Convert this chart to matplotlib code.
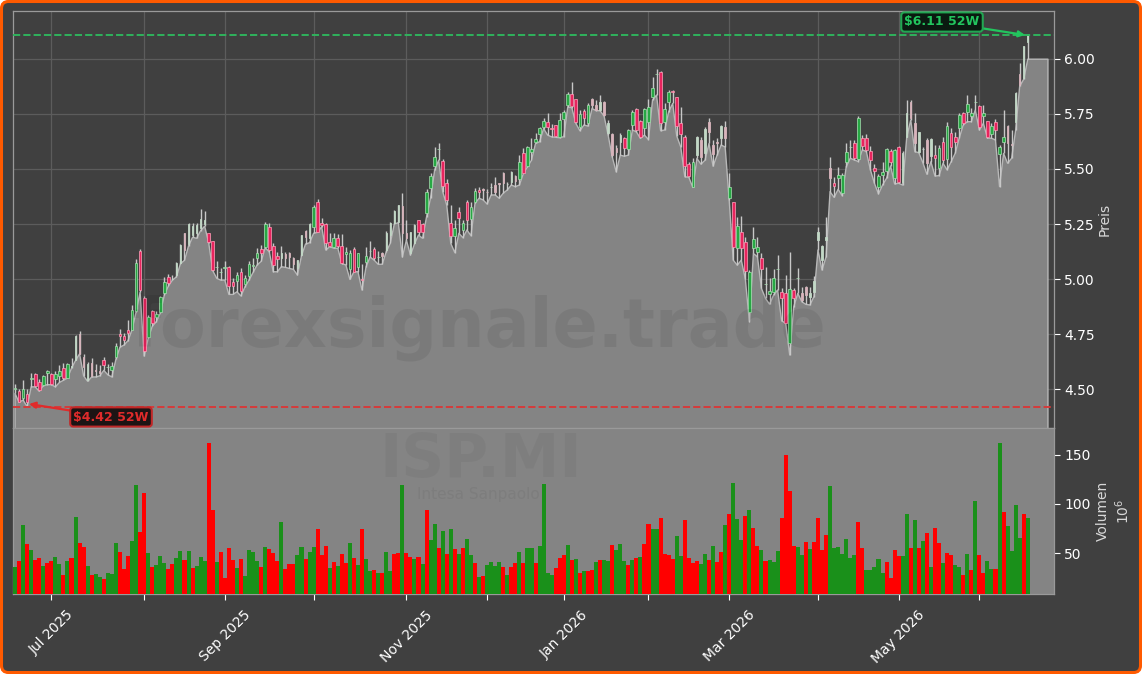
import numpy as np
import matplotlib
matplotlib.use('Agg')
import matplotlib.pyplot as plt
from matplotlib.patches import FancyBboxPatch

opens = [4.50,4.493,4.458,4.477,4.545,4.57,4.53,4.52,4.575,4.57,
4.545,4.56,4.595,4.55,4.60,4.63,4.75,4.645,4.54,4.62,
4.585,4.58,4.63,4.60,4.585,4.645,4.75,4.74,4.77,4.77,
4.855,5.127,4.915,4.735,4.856,4.826,4.85,4.935,5.01,5.0,
5.018,5.075,5.21,5.16,5.20,5.21,5.23,5.25,5.208,5.173,
5.056,5.03,5.05,5.053,4.985,4.99,5.033,4.976,5.014,5.06,
5.094,5.136,5.147,5.238,5.152,5.105,5.094,5.114,5.117,5.094,
5.05,5.11,5.218,5.185,5.238,5.35,5.255,5.248,5.167,5.144,
5.185,5.152,5.114,5.045,5.135,5.056,4.998,5.079,5.127,5.135,
5.10,5.117,5.13,5.20,5.253,5.26,5.332,5.21,5.118,5.162,
5.268,5.25,5.30,5.412,5.515,5.59,5.536,5.435,5.256,5.197,
5.303,5.223,5.348,5.271,5.348,5.405,5.408,5.397,5.416,5.427,
5.435,5.483,5.43,5.442,5.468,5.453,5.574,5.513,5.578,5.624,
5.659,5.692,5.715,5.687,5.70,5.646,5.725,5.79,5.843,5.816,
5.692,5.765,5.707,5.816,5.79,5.768,5.806,5.662,5.659,5.594,
5.624,5.643,5.593,5.70,5.771,5.718,5.687,5.715,5.828,5.93,
5.939,5.715,5.806,5.856,5.825,5.707,5.646,5.521,5.419,5.563,
5.634,5.571,5.715,5.609,5.624,5.639,5.692,5.369,5.348,5.139,
5.212,5.166,4.851,5.139,5.124,5.094,4.977,4.931,4.939,5.045,
4.943,4.935,4.711,4.95,5.003,4.935,4.965,4.92,4.943,5.177,
5.086,5.177,5.503,5.438,5.458,5.39,5.53,5.599,5.617,5.544,
5.64,5.64,5.584,5.506,5.42,5.473,5.493,5.583,5.458,5.602,
5.44,5.647,5.806,5.708,5.579,5.591,5.632,5.559,5.562,5.503,
5.621,5.544,5.665,5.647,5.685,5.753,5.761,5.743,5.806,5.787,
5.743,5.718,5.659,5.712,5.567,5.624,5.696,5.615,5.715,5.932,
5.912,6.079]
closes = [4.505,4.443,4.50,4.443,4.55,4.515,4.495,4.56,4.58,4.525,
4.57,4.58,4.55,4.615,4.605,4.74,4.66,4.60,4.615,4.56,
4.58,4.575,4.61,4.60,4.605,4.695,4.74,4.725,4.756,4.86,
5.075,4.95,4.673,4.826,4.80,4.84,4.917,4.988,4.98,5.0,
5.074,5.155,5.13,5.25,5.24,5.245,5.275,5.268,5.17,5.04,
5.056,5.03,5.053,4.968,4.97,5.017,4.947,5.003,5.07,5.065,
5.117,5.12,5.25,5.132,5.064,5.09,5.117,5.094,5.10,5.068,
5.086,5.20,5.192,5.25,5.326,5.215,5.245,5.162,5.152,5.185,
5.152,5.074,5.124,5.117,5.033,5.117,4.995,5.106,5.127,5.094,
5.10,5.105,5.208,5.253,5.31,5.335,5.208,5.185,5.212,5.245,
5.215,5.212,5.394,5.468,5.553,5.59,5.424,5.36,5.197,5.23,
5.279,5.253,5.268,5.329,5.40,5.394,5.405,5.395,5.42,5.397,
5.43,5.435,5.433,5.488,5.445,5.533,5.484,5.598,5.593,5.636,
5.687,5.719,5.689,5.68,5.65,5.722,5.76,5.843,5.786,5.712,
5.748,5.734,5.793,5.79,5.768,5.806,5.745,5.707,5.563,5.578,
5.654,5.597,5.677,5.76,5.677,5.646,5.771,5.783,5.869,5.93,
5.707,5.771,5.848,5.848,5.695,5.659,5.513,5.469,5.533,5.646,
5.556,5.684,5.669,5.568,5.62,5.695,5.642,5.419,5.147,5.242,
5.139,5.036,5.033,5.184,5.147,5.044,4.977,4.946,5.003,5.045,
4.912,4.802,4.953,4.915,5.003,4.905,4.927,4.935,4.993,5.212,
5.15,5.192,5.458,5.424,5.471,5.471,5.576,5.599,5.552,5.73,
5.606,5.587,5.541,5.493,5.47,5.485,5.59,5.533,5.587,5.44,
5.571,5.753,5.73,5.617,5.67,5.593,5.526,5.635,5.549,5.594,
5.541,5.696,5.599,5.621,5.746,5.711,5.796,5.753,5.806,5.693,
5.753,5.644,5.696,5.677,5.599,5.647,5.617,5.61,5.844,5.882,
6.059,6.109]
highs = [4.525,4.50,4.54,4.50,4.575,4.575,4.545,4.565,4.585,4.575,
4.58,4.61,4.62,4.62,4.64,4.745,4.765,4.66,4.625,4.64,
4.615,4.61,4.645,4.615,4.625,4.71,4.775,4.755,4.815,4.88,
5.09,5.135,4.925,4.836,4.86,4.856,4.923,5.01,5.023,5.018,
5.078,5.16,5.21,5.255,5.253,5.253,5.317,5.31,5.21,5.175,
5.08,5.05,5.08,5.06,5.003,5.033,5.05,5.018,5.08,5.094,
5.14,5.155,5.26,5.253,5.162,5.124,5.151,5.124,5.124,5.10,
5.088,5.20,5.223,5.256,5.336,5.362,5.276,5.253,5.208,5.208,
5.205,5.205,5.147,5.132,5.147,5.118,5.07,5.147,5.174,5.147,
5.129,5.124,5.22,5.258,5.315,5.336,5.392,5.268,5.215,5.25,
5.27,5.256,5.408,5.483,5.60,5.62,5.544,5.453,5.336,5.27,
5.326,5.268,5.359,5.351,5.412,5.42,5.412,5.408,5.438,5.465,
5.438,5.487,5.442,5.49,5.473,5.563,5.594,5.604,5.639,5.662,
5.692,5.73,5.753,5.704,5.70,5.753,5.768,5.851,5.897,5.818,
5.768,5.771,5.798,5.821,5.813,5.836,5.81,5.722,5.662,5.609,
5.662,5.645,5.682,5.768,5.775,5.722,5.775,5.82,5.916,5.953,
5.947,5.798,5.859,5.858,5.827,5.783,5.654,5.533,5.548,5.65,
5.646,5.69,5.734,5.631,5.643,5.70,5.719,5.48,5.351,5.283,
5.287,5.192,5.04,5.237,5.192,5.116,5.056,5.003,5.044,5.109,
4.96,5.018,5.124,4.958,5.049,4.965,4.97,4.965,5.014,5.235,
5.154,5.283,5.556,5.465,5.51,5.48,5.617,5.632,5.632,5.741,
5.655,5.659,5.606,5.521,5.477,5.53,5.594,5.59,5.59,5.604,
5.58,5.814,5.814,5.753,5.67,5.602,5.64,5.64,5.609,5.609,
5.647,5.715,5.685,5.67,5.756,5.761,5.837,5.776,5.837,5.791,
5.791,5.72,5.708,5.726,5.61,5.768,5.70,5.677,5.848,5.983,
6.06,6.114]
lows = [4.48,4.44,4.45,4.42,4.51,4.51,4.49,4.515,4.52,4.52,
4.51,4.53,4.54,4.55,4.595,4.63,4.66,4.56,4.535,4.555,
4.555,4.56,4.585,4.565,4.555,4.635,4.69,4.70,4.72,4.77,
4.85,4.94,4.65,4.73,4.785,4.806,4.844,4.927,4.968,4.995,
5.01,5.07,5.085,5.15,5.19,5.185,5.22,5.24,5.165,5.038,
5.003,4.995,4.995,4.93,4.93,4.942,4.923,4.965,4.995,5.03,
5.064,5.08,5.142,5.124,5.033,5.033,5.056,5.053,5.048,5.044,
5.018,5.106,5.159,5.165,5.208,5.212,5.238,5.132,5.147,5.14,
5.14,5.07,5.064,4.998,5.033,5.033,4.95,5.056,5.10,5.086,
5.067,5.067,5.124,5.162,5.25,5.256,5.10,5.177,5.109,5.159,
5.20,5.185,5.283,5.37,5.495,5.54,5.397,5.336,5.162,5.12,
5.208,5.188,5.223,5.197,5.344,5.367,5.36,5.341,5.382,5.382,
5.367,5.39,5.405,5.427,5.42,5.427,5.48,5.51,5.54,5.616,
5.624,5.684,5.654,5.646,5.644,5.642,5.647,5.783,5.778,5.707,
5.674,5.70,5.695,5.775,5.765,5.765,5.74,5.654,5.556,5.487,
5.563,5.558,5.563,5.677,5.669,5.639,5.654,5.634,5.813,5.836,
5.674,5.677,5.76,5.798,5.65,5.60,5.465,5.462,5.416,5.548,
5.522,5.54,5.616,5.513,5.563,5.609,5.60,5.359,5.086,5.063,
5.086,5.0,4.806,5.116,5.101,4.957,4.912,4.886,4.927,4.95,
4.81,4.799,4.655,4.874,4.935,4.897,4.885,4.882,4.92,5.132,
5.041,5.10,5.397,5.371,5.408,5.379,5.51,5.549,5.541,5.534,
5.587,5.579,5.496,5.435,5.387,5.427,5.458,5.514,5.432,5.435,
5.427,5.644,5.723,5.579,5.574,5.529,5.476,5.533,5.468,5.47,
5.526,5.496,5.533,5.571,5.64,5.70,5.715,5.715,5.768,5.677,
5.708,5.64,5.64,5.632,5.42,5.571,5.526,5.549,5.677,5.877,
5.908,5.999]
volumes = [36,42,79,59,53,43,45,37,40,42,
46,39,28,42,45,87,60,56,37,28,
29,26,24,30,29,60,51,34,47,62,
119,71,111,50,36,38,47,40,34,39,
45,52,43,52,35,37,46,42,162,94,
41,51,25,55,43,35,44,27,53,51,
42,36,56,54,50,42,82,34,39,39,
48,56,44,51,56,74,48,57,35,41,
37,49,40,60,45,38,74,44,32,33,
30,30,51,32,49,50,119,50,46,44,
46,39,94,63,80,55,72,49,74,54,
49,55,64,48,40,26,27,38,41,37,
41,36,28,36,40,51,40,55,55,40,
57,120,30,28,35,45,48,58,43,44,
30,32,32,33,41,43,43,42,58,53,
59,42,38,43,45,46,59,80,75,74,
86,49,48,44,67,47,84,45,40,42,
39,49,43,57,41,51,79,90,121,85,
63,88,94,76,57,53,42,43,41,52,
86,150,113,57,56,48,61,54,61,86,
53,68,118,55,56,49,64,45,48,82,
55,33,33,36,44,30,41,25,53,47,
47,90,55,84,55,62,70,36,76,60,
40,50,48,38,36,28,49,33,103,48,
30,42,34,34,162,92,78,52,99,65,
90,86]
vol_dir = ("GRGRGRRGRRGGRGRGRRGRGGRGGGRRRG"
           "GRRGRGGGRRGGRGRGGGRRGRRRRGRGGG"
           "GRGRRRGRRRGGRGGRRRGRGRRGRGRGGR"
           "GRGGRRGRRGRGRGGRGRGRGRGGRGRGGG"
           "GRGRRGRGGRGGGGRRRGRGRGRRGRGGRG"
           "GGRGRGRRGGRRRRGGRRRRGGRGRRGRGG"
           "GRGRRGRGGGRRRRGGRGRRRRGGGGGGGR"
           "RGGGGGRRRRGGRGRGRGRRGRRGGRGRGR"
           "RGGRGRGGGGRGRGRR")

# candles that print washed out and thin in the picture
pale_idx = list(range(14, 22)) + list(range(39, 48)) + list(range(66, 74)) \
    + list(range(91, 100)) + list(range(116, 125)) + list(range(143, 151)) \
    + list(range(169, 177)) + list(range(195, 203)) + list(range(220, 228)) \
    + list(range(246, 252))

tick_pos = [9, 32, 52, 74, 97, 117, 136, 157, 177, 199, 219, 239]
tick_labels = ['Jul 2025', '', 'Sep 2025', '', 'Nov 2025', '', 'Jan 2026', '',
               'Mar 2026', '', 'May 2026', '']
price_ticks = [4.50, 4.75, 5.00, 5.25, 5.50, 5.75, 6.00]
vol_ticks = [50, 100, 150]
high_52w = 6.11
low_52w = 4.42

W, H = 1142, 674
BG = '#404040'
AREA = '#848484'
LIGHT = '#d8d8d8'

fig = plt.figure(figsize=(W / 100, H / 100), dpi=100, facecolor='white')
frame = FancyBboxPatch((1.5, 1.5), W - 3, H - 3, boxstyle='round,pad=0,rounding_size=7',
                       transform=None, facecolor=BG, edgecolor='#ff5a00', linewidth=2.2, zorder=-1)
fig.patches.append(frame)

ax = fig.add_axes([13 / W, (H - 428) / H, 1041 / W, 417 / H], facecolor=BG)
vax = fig.add_axes([13 / W, (H - 594) / H, 1041 / W, 166 / H], facecolor=AREA, sharex=ax)

x = np.arange(len(opens))
o, c, h, l = map(np.array, (opens, closes, highs, lows))

# area under the lows, last value carried on a few slots
area_x = np.arange(len(lows) + 5)
area_y = lows + [lows[-1]] * 5
ax.fill_between(area_x, area_y, 0, facecolor=AREA, edgecolor='#b8b8b8', linewidth=1.0, zorder=2)

ax.vlines(x, l, h, color='#c8c8c8', linewidth=1.0, zorder=3)
pale = np.isin(x, pale_idx)
up = c >= o
bott = np.minimum(o, c)
height = np.abs(c - o)
for mask, col, edge, w, lw in [
    (up & ~pale, '#27a844', '#a8dfb2', 0.68, 0.5),
    (~up & ~pale, '#e8245e', '#ff9fb8', 0.68, 0.5),
    (up & pale, '#c2d8c6', '#c2d8c6', 0.35, 0.6),
    (~up & pale, '#d8b4bc', '#d8b4bc', 0.35, 0.6),
]:
    ax.bar(x[mask], height[mask], bottom=bott[mask], width=w, color=col, edgecolor=edge,
           linewidth=lw, zorder=4)

ax.axhline(high_52w, color='#2fb35c', linestyle='--', linewidth=1.4, zorder=5)
ax.axhline(low_52w, color='#d63a3a', linestyle='--', linewidth=1.4, zorder=5)

ax.annotate('$6.11 52W', xy=(1025, H - 35), xycoords='figure pixels', xytext=(942, H - 22),
            textcoords='figure pixels', ha='center', va='center', color='#22c55e', fontsize=9,
            fontweight='bold', parse_math=False, zorder=7, annotation_clip=False,
            bbox=dict(boxstyle='round,pad=0.25', facecolor='#0a1a10', edgecolor='#22a552', linewidth=1.5),
            arrowprops=dict(arrowstyle='-|>', color='#22c55e', lw=1.6, shrinkA=0, shrinkB=0))
ax.annotate('$4.42 52W', xy=(29, H - 404), xycoords='figure pixels', xytext=(111, H - 417),
            textcoords='figure pixels', ha='center', va='center', color='#e02b2b', fontsize=9,
            fontweight='bold', parse_math=False, zorder=7, annotation_clip=False,
            bbox=dict(boxstyle='round,pad=0.25', facecolor='#1c1414', edgecolor='#c02828', linewidth=1.5),
            arrowprops=dict(arrowstyle='-|>', color='#e02b2b', lw=1.6, shrinkA=0, shrinkB=0))

vcols = ['#1a901a' if d == 'G' else '#ff0000' for d in vol_dir]
vax.bar(x, volumes, width=1.0, color=vcols, zorder=3)

ax.set_xlim(-0.5, 257.5)
ax.set_ylim(4.323, 6.218)
vax.set_ylim(8.2, 177.5)

ax.grid(True, color='#5c5c5c', linewidth=0.9, zorder=1)
ax.set_axisbelow(True)
ax.yaxis.tick_right()
ax.yaxis.set_label_position('right')
ax.set_yticks(price_ticks)
ax.set_yticklabels([f'{v:.2f}' for v in price_ticks])
ax.set_ylabel('Preis', color=LIGHT, fontsize=10, labelpad=2)
ax.tick_params(axis='x', length=0, labelbottom=False)
ax.tick_params(axis='y', colors='white', labelsize=10, length=4, color='white')

vax.yaxis.tick_right()
vax.yaxis.set_label_position('right')
vax.set_yticks(vol_ticks)
vax.set_ylabel('Volumen\n$10^{6}$', color=LIGHT, fontsize=10, labelpad=4)
vax.set_xticks(tick_pos)
vax.set_xticklabels(tick_labels, rotation=45, ha='center', fontsize=10, color='white')
vax.tick_params(axis='both', colors='white', length=4, color='white')
vax.tick_params(axis='x', pad=6)

for a in (ax, vax):
    for s in a.spines.values():
        s.set_color('#9a9a9a')
        s.set_linewidth(0.9)

# watermarks
fig.text(479 / W, 1 - 328 / H, 'forexsignale.trade', fontsize=48, fontweight='bold', color='black',
         alpha=0.07, ha='center', va='center', zorder=6)
fig.text(481 / W, 1 - 460 / H, 'ISP.MI', fontsize=43, fontweight='bold', color='black',
         alpha=0.04, ha='center', va='center', zorder=6)
fig.text(478 / W, 1 - 494 / H, 'Intesa Sanpaolo', fontsize=11, color='black',
         alpha=0.05, ha='center', va='center', zorder=6)

print(len(opens), len(closes), len(highs), len(lows), len(volumes), len(vol_dir))
fig.savefig('out.png', dpi=100)
